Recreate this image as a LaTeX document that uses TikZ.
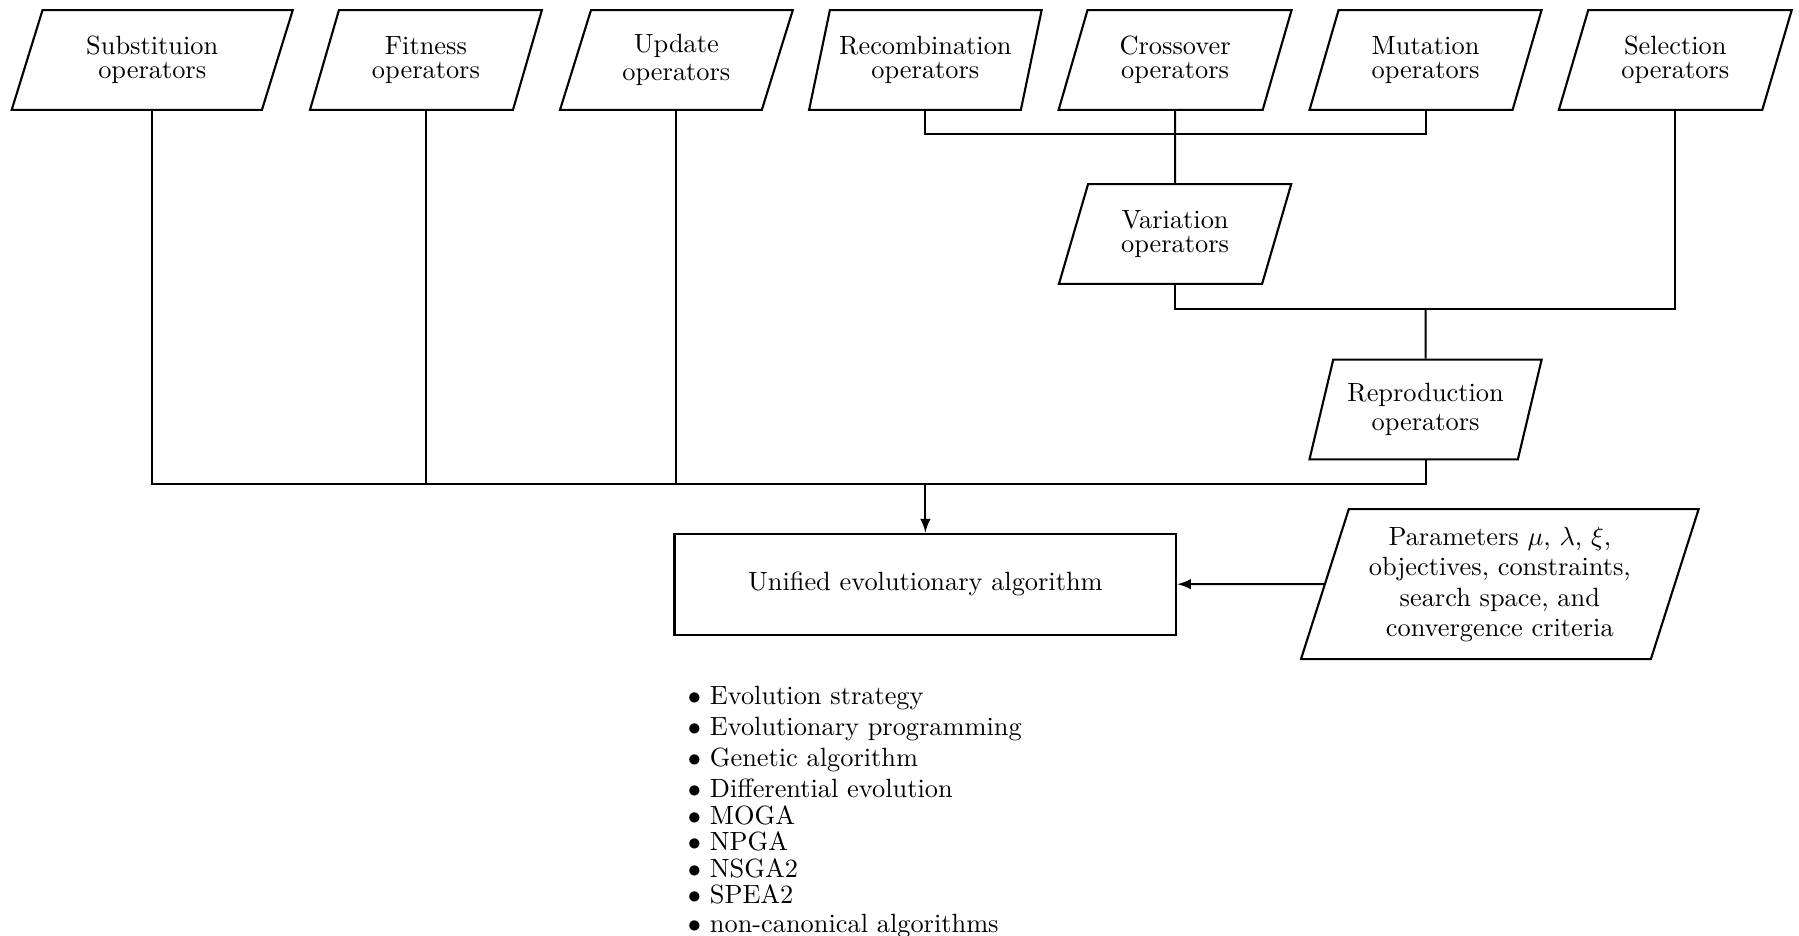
\documentclass[tikz,border=0pt]{standalone}
\usepackage{amsmath}
\usepackage{amssymb}
\usetikzlibrary{
    calc,
    arrows.meta,
    shapes.geometric
}
\newcommand{\tightlines}{\setlength{\baselineskip}{0pt}\setlength{\lineskip}{2.7pt}\relax}

\begin{document}
\begin{tikzpicture}[thick,
    every node/.style={font=\tightlines},
    opbox/.style={trapezium,trapezium left angle=71,trapezium right angle=109,
        trapezium stretches=true,draw,align=center,inner sep=2pt,
        minimum width=3.11cm,minimum height=1.33cm},
    algbox/.style={rectangle,draw,minimum width=6.69cm,minimum height=1.35cm}]

\useasboundingbox (0,0) rectangle (23.99,-12.47);

\node[opbox,minimum width=3.76cm] (sub) at (2.03,-0.80) {Substituion\\operators};
\node[opbox] (fit) at (5.68,-0.80) {Fitness\\operators};
\node[opbox] (upd) at (9.02,-0.80) {Update\\operators};
\node[opbox] (rec) at (12.34,-0.80) {Recombination\\operators};
\node[opbox] (cro) at (15.67,-0.80) {Crossover\\operators};
\node[opbox] (mut) at (19.01,-0.80) {Mutation\\operators};
\node[opbox] (sel) at (22.34,-0.80) {Selection\\operators};

\node[opbox] (var) at (15.67,-3.12) {Variation\\operators};
\node[opbox] (rep) at (19.01,-5.46) {Reproduction\\operators};

\node[algbox] (alg) at (12.34,-7.79) {Unified evolutionary algorithm};
\node[opbox,minimum width=5.31cm,minimum height=2.00cm] (par) at (20.00,-7.79)
    {Parameters $\mu$, $\lambda$, $\xi$,\\objectives, constraints,\\search space, and\\convergence criteria};

\coordinate (j1) at (15.67,-1.79);
\coordinate (j2) at (19.01,-4.12);
\coordinate (j3) at (12.34,-6.46);

\draw (rec.south) |- (j1) -| (mut.south);
\draw (cro.south) -- (var.north);
\draw (var.south) |- (j2) -| (sel.south);
\draw (j2) -- (rep.north);
\draw (rep.south) |- (j3) -| (sub.south);
\draw (fit.south) -- (fit.south |- j3);
\draw (upd.south) -- (upd.south |- j3);
\draw[-latex] (j3) -- (alg.north);
\draw[-latex] (par.west) -- (alg.east);

\node[anchor=north west,align=left,inner sep=0pt] (list) at (9.16,-9.14)
    {$\bullet$ Evolution strategy\\
     $\bullet$ Evolutionary programming\\
     $\bullet$ Genetic algorithm\\
     $\bullet$ Differential evolution\\
     $\bullet$ MOGA\\
     $\bullet$ NPGA\\
     $\bullet$ NSGA2\\
     $\bullet$ SPEA2\\[1pt]
     $\bullet$ non-canonical algorithms};

\end{tikzpicture}
\end{document}
